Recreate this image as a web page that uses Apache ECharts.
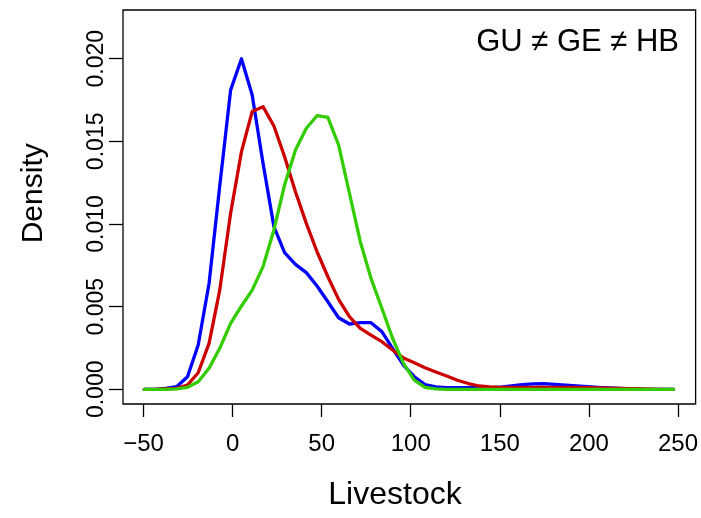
<!DOCTYPE html>
<html>
<head>
<meta charset="utf-8">
<script src="https://cdn.jsdelivr.net/npm/echarts@6/dist/echarts.min.js"></script>
<style>
  html, body { margin: 0; padding: 0; background: #fff; }
  #chart { width: 701px; height: 518px; }
</style>
</head>
<body>
<div id="chart"></div>
<script>
// Evaluation grid of the kernel density estimates (Livestock)
const gridX = [
  -49.6, -43.5, -37.5, -31.4, -25.3, -19.3, -13.2, -7.2, -1.1, 5.0,
  11.0, 17.1, 23.2, 29.2, 35.3, 41.4, 47.4, 53.5, 59.5, 65.6,
  71.7, 77.7, 83.8, 89.8, 95.9, 102.0, 108.0, 114.1, 120.2, 126.2,
  132.3, 138.4, 144.4, 150.5, 156.5, 162.6, 168.7, 174.7, 180.8, 186.9,
  192.9, 199.0, 205.1, 211.1, 217.2, 223.2, 229.3, 235.4, 241.4, 247.5
];

// Density values for each group
const densityBlue = [
  0, 0, 0.00006, 0.00016, 0.00076, 0.00268, 0.0064, 0.0123, 0.0181, 0.0200,
  0.0178, 0.01367, 0.00984, 0.00827, 0.00756, 0.00706, 0.00625, 0.0053, 0.00433, 0.00395,
  0.00403, 0.00403, 0.00349, 0.00248, 0.00147, 0.00076, 0.00028, 0.00015, 0.0001, 0.0001,
  0.0001, 0.0001, 0.0001, 0.00013, 0.0002, 0.00028, 0.00033, 0.00034, 0.0003, 0.00025,
  0.0002, 0.00016, 0.00012, 0.00008, 0.00005, 0.00003, 0.00001, 0, 0, 0
];
const densityRed = [
  0, 0, 0.00002, 0.00006, 0.00026, 0.0010, 0.00278, 0.0060, 0.01065, 0.01438,
  0.0168, 0.0171, 0.01593, 0.01407, 0.01195, 0.01004, 0.00832, 0.00681, 0.00544, 0.00439,
  0.00369, 0.00328, 0.00288, 0.00238, 0.0019, 0.0016, 0.0013, 0.00105, 0.0008, 0.00055,
  0.00035, 0.0002, 0.00015, 0.00012, 0.00012, 0.00012, 0.00012, 0.00012, 0.00012, 0.00012,
  0.00012, 0.0001, 0.00009, 0.00007, 0.00005, 0.00004, 0.00002, 0.00001, 0, 0
];
const densityGreen = [
  0, 0, 0, 0.00002, 0.00012, 0.00046, 0.00127, 0.00248, 0.00399, 0.00504,
  0.0060, 0.00742, 0.00964, 0.01236, 0.01448, 0.01579, 0.01655, 0.01645, 0.01478, 0.01186,
  0.00893, 0.00671, 0.0049, 0.00309, 0.00157, 0.00056, 0.00012, 0.00002, 0, 0,
  0, 0, 0, 0, 0, 0, 0, 0, 0, 0,
  0, 0, 0, 0, 0, 0, 0, 0, 0, 0
];

// Tick positions
const xTicks = [-50, 0, 50, 100, 150, 200, 250];
const yTicks = [0, 0.005, 0.010, 0.015, 0.020];

const xTitle = 'Livestock';
const yTitle = 'Density';
const note = 'GU \u2260 GE \u2260 HB';

const seriesDefs = [
  { name: 'GU', values: densityBlue, color: '#0000FF' },
  { name: 'GE', values: densityRed, color: '#CD0000' },
  { name: 'HB', values: densityGreen, color: '#33CC00' }
];

const FONT = "'Liberation Sans', Arial, Helvetica, sans-serif";

const chart = echarts.init(document.getElementById('chart'), null, { renderer: 'canvas' });

chart.setOption({
  animation: false,
  backgroundColor: '#ffffff',
  grid: {
    left: 123, right: 3.3, top: 10, bottom: 114,
    show: true, borderColor: '#000', borderWidth: 1.3, backgroundColor: 'transparent'
  },
  xAxis: {
    type: 'value',
    min: -61.5, max: 259.9,
    splitLine: { show: false },
    axisLine: { show: false, onZero: false },
    axisTick: {
      show: true, length: 13, inside: false,
      customValues: xTicks,
      lineStyle: { color: '#000', width: 1.3 }
    },
    axisLabel: {
      show: true, margin: 28,
      customValues: xTicks,
      color: '#000', fontSize: 24, fontFamily: FONT,
      formatter: v => (v < 0 ? '\u2212' + Math.abs(v) : String(v))
    }
  },
  yAxis: {
    type: 'value',
    min: -0.000889, max: 0.022946,
    splitLine: { show: false },
    axisLine: { show: false, onZero: false },
    axisTick: {
      show: true, length: 14, inside: false,
      customValues: yTicks,
      lineStyle: { color: '#000', width: 1.3 }
    },
    axisLabel: {
      show: true, margin: 15, rotate: 90,
      customValues: yTicks,
      color: '#000', fontSize: 23, fontFamily: FONT,
      formatter: v => v.toFixed(3)
    }
  },
  series: seriesDefs.map(s => ({
    name: s.name,
    type: 'line',
    showSymbol: false,
    symbol: 'none',
    smooth: false,
    data: gridX.map((x, i) => [x, s.values[i]]),
    lineStyle: { color: s.color, width: 3.3, cap: 'round', join: 'round' },
    itemStyle: { color: s.color },
    z: 3
  })),
  graphic: [
    {
      type: 'text', x: 679, y: 42.5,
      style: { text: note, fontSize: 31, fontFamily: FONT, fill: '#000', align: 'right', verticalAlign: 'middle' }
    },
    {
      type: 'text', x: 395, y: 495,
      style: { text: xTitle, fontSize: 32, fontFamily: FONT, fill: '#000', align: 'center', verticalAlign: 'middle' }
    },
    {
      type: 'text', x: 34.2, y: 193.3, rotation: Math.PI / 2,
      style: { text: yTitle, fontSize: 30, fontFamily: FONT, fill: '#000', align: 'center', verticalAlign: 'middle' }
    }
  ]
});
</script>
</body>
</html>
